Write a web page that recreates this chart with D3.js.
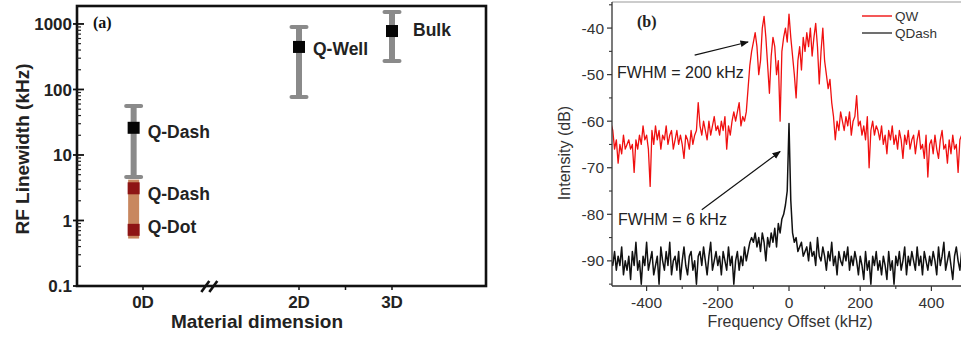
<!DOCTYPE html>
<html><head><meta charset="utf-8">
<script src="https://cdn.jsdelivr.net/npm/d3@7/dist/d3.min.js"></script>
<style>
body{margin:0;background:#fff;}
svg{display:block;}
</style></head>
<body>
<svg id="chart" width="961" height="337"></svg>
<script>
// ---------- Panel (a) data ----------
const dimTickPos = [0, 2, 3];
const dimTickLabels = ["0D", "2D", "3D"];
const yTicksA = [0.1, 1, 10, 100, 1000];
const yTickLabelsA = ["0.1", "1", "10", "100", "1000"];
const pointNames = ["Q-Dash", "Q-Dash", "Q-Dot", "Q-Well", "Bulk"];
const pointDim = [-0.12, -0.12, -0.12, 2, 3];
const pointVal = [26, 3.1, 0.72, 446, 780];
const pointKind = ["black", "red", "red", "black", "black"];
const barDim = [-0.12, -0.12, 2, 3];
const barLow = [4.6, 0.53, 77, 272];
const barHigh = [56, 4.2, 900, 1520];
const barKind = ["gray", "brown", "gray", "gray"];

// ---------- Panel (b) data ----------
const freqStart = -500, freqStep = 5; // sampling grid of the spectra (kHz)
const qwDb = [
-60.5,-62,-66,-64,-69,-65,-67,-63,-66,-65,
-64,-66,-65,-71,-64,-66,-63,-65,-61,-64,
-63,-66,-74,-62,-65,-61,-64,-62,-66,-63,
-64,-61,-65,-63,-62,-66,-64,-62,-65,-63,
-65,-68,-63,-64,-66,-62,-65,-63,-62,-56,
-61,-63,-60,-62,-64,-60,-63,-61,-59,-62,
-61,-63,-60,-62,-59,-66,-61,-63,-60,-58,
-60,-58,-56,-61,-59,-60,-58,-53,-48,-45,
-43,-41,-44,-50,-47,-40,-37.5,-42,-48,-54,
-46,-42,-44,-50,-47,-60,-45,-42,-40,-43,
-37,-42,-46,-50,-55,-47,-44,-49,-42,-45,
-41,-44,-40,-46,-42,-39,-44,-52,-45,-40,
-47,-50,-53,-51,-56,-59,-64,-60,-62,-58,
-60,-62,-59,-61,-58,-63,-60,-59,-54.5,-61,
-60,-63,-61,-64,-59,-70,-62,-60,-63,-61,
-62,-64,-61,-65,-63,-67,-62,-64,-61,-65,
-63,-66,-62,-64,-68,-63,-65,-62,-66,-64,
-63,-67,-64,-62,-66,-65,-68,-63,-72,-65,
-64,-67,-63,-66,-68,-64,-62,-66,-65,-69,
-64,-67,-63,-66,-65,-71,-64,-63,-66,-64,
-63];
const qdashDb = [
-90,-91,-88,-92,-89,-91,-87,-93,-90,-92,
-89,-94,-88,-91,-86,-92,-90,-95,-89,-91,
-86,-92,-90,-88,-93,-91,-89,-95,-87,-90,
-92,-88,-91,-86,-93,-90,-89,-92,-88,-94,
-90,-87,-91,-93,-89,-88,-92,-90,-95,-89,
-88,-91,-87,-90,-93,-89,-86,-92,-90,-88,
-91,-89,-93,-88,-90,-92,-87,-91,-89,-95,
-90,-88,-92,-89,-91,-87,-90,-88,-86,-85,
-86,-84,-87,-85,-88,-84,-86,-90,-85,-87,
-84,-86,-83,-87,-82,-84,-81,-80,-78,-75,
-60.5,-77,-84,-86,-85,-88,-87,-86,-89,-88,
-87,-90,-86,-89,-88,-91,-85,-89,-90,-87,
-89,-92,-88,-90,-86,-91,-89,-93,-88,-90,
-91,-88,-90,-87,-92,-89,-91,-88,-90,-93,
-89,-91,-94,-88,-92,-90,-95,-89,-91,-88,
-92,-90,-93,-89,-91,-94,-88,-92,-90,-95,
-89,-91,-88,-92,-90,-87,-93,-89,-91,-88,
-90,-92,-87,-91,-89,-93,-88,-90,-92,-89,
-91,-88,-90,-93,-87,-91,-89,-86,-92,-90,
-88,-91,-94,-89,-87,-90,-92,-88,-91,-89,
-90];
const xTicksB = [-400, -200, 0, 200, 400];
const yTicksB = [-40, -50, -60, -70, -80, -90];
const seriesNames = ["QW", "QDash"];
const annotTexts = ["FWHM = 200 kHz", "FWHM = 6 kHz"];

const svg = d3.select("#chart");
const sans = "'Liberation Sans', Arial, sans-serif";
const serif = "'Liberation Serif', 'Times New Roman', serif";

// ================= Panel (a) =================
const A = {left: 77, right: 486, top: 6, bottom: 286};
const xA = d3.scaleLinear().domain([0, 2, 3]).range([143, 299, 392]);
const yA = d3.scaleLog().domain([0.1, 1880]).range([A.bottom, A.top]);
const ga = svg.append("g");

// frame
ga.append("rect").attr("x", A.left).attr("y", A.top)
  .attr("width", A.right - A.left).attr("height", A.bottom - A.top)
  .attr("fill", "none").attr("stroke", "#111").attr("stroke-width", 2.6);

// y ticks (log): majors and minors
const minorA = [];
for (let d = 0.1; d < 1880; d *= 10) for (let k = 2; k <= 9; k++) if (d * k < 1880) minorA.push(d * k);
ga.selectAll(".mn").data(minorA).join("line")
  .attr("x1", A.left).attr("x2", A.left + 4)
  .attr("y1", d => yA(d)).attr("y2", d => yA(d))
  .attr("stroke", "#222").attr("stroke-width", 1.2);
ga.selectAll(".mj").data(yTicksA).join("line")
  .attr("x1", A.left - 4).attr("x2", A.left + 7)
  .attr("y1", d => yA(d)).attr("y2", d => yA(d))
  .attr("stroke", "#111").attr("stroke-width", 1.8);
ga.selectAll(".yl").data(yTicksA).join("text")
  .attr("x", A.left - 5).attr("y", d => yA(d))
  .attr("dy", "0.36em").attr("text-anchor", "end")
  .attr("font-family", sans).attr("font-weight", "bold").attr("font-size", 17)
  .attr("fill", "#222").text((d, i) => yTickLabelsA[i]);

// x ticks
ga.selectAll(".xt").data([0, 2, 2.5, 3]).join("line")
  .attr("x1", d => xA(d)).attr("x2", d => xA(d))
  .attr("y1", A.bottom).attr("y2", A.bottom + 4)
  .attr("stroke", "#111").attr("stroke-width", 1.5);
ga.selectAll(".xl").data(dimTickPos).join("text")
  .attr("x", d => xA(d)).attr("y", 308).attr("text-anchor", "middle")
  .attr("font-family", sans).attr("font-weight", "bold").attr("font-size", 17)
  .attr("fill", "#222").text((d, i) => dimTickLabels[i]);

// axis break
const bx = xA(0.85);
[-4, 4].forEach(o => {
  ga.append("line").attr("x1", bx + o - 4).attr("y1", A.bottom + 6)
    .attr("x2", bx + o + 4).attr("y2", A.bottom - 5)
    .attr("stroke", "#111").attr("stroke-width", 2.6);
});

// axis titles
ga.append("text").attr("x", 257).attr("y", 328).attr("text-anchor", "middle")
  .attr("font-family", sans).attr("font-weight", "bold").attr("font-size", 19)
  .attr("fill", "#222").text("Material dimension");
ga.append("text").attr("transform", "translate(29,149) rotate(-90)")
  .attr("text-anchor", "middle")
  .attr("font-family", sans).attr("font-weight", "bold").attr("font-size", 19)
  .attr("fill", "#222").text("RF Linewidth (kHz)");
ga.append("text").attr("x", 93).attr("y", 28)
  .attr("font-family", serif).attr("font-weight", "bold").attr("font-size", 16)
  .attr("fill", "#111").text("(a)");

// error bars
const bars = barDim.map((d, i) => ({d, lo: barLow[i], hi: barHigh[i], kind: barKind[i]}));
bars.filter(b => b.kind === "brown").forEach(b => {
  ga.append("rect").attr("x", xA(b.d) - 5.5).attr("width", 11)
    .attr("y", yA(b.hi)).attr("height", yA(b.lo) - yA(b.hi))
    .attr("fill", "#c8875f");
});
bars.filter(b => b.kind === "gray").forEach(b => {
  const x = xA(b.d);
  ga.append("line").attr("x1", x).attr("x2", x)
    .attr("y1", yA(b.hi)).attr("y2", yA(b.lo))
    .attr("stroke", "#8a8a8a").attr("stroke-width", 6);
  [b.hi, b.lo].forEach(v => {
    ga.append("line").attr("x1", x - 7.5).attr("x2", x + 7.5)
      .attr("y1", yA(v)).attr("y2", yA(v))
      .attr("stroke", "#8a8a8a").attr("stroke-width", 4).attr("stroke-linecap", "round");
  });
});

// points + labels
const labelDx = [14, 14, 14, 14, 21];
const labelDy = [4, 5, -3, 2, -1];
pointVal.forEach((v, i) => {
  const x = xA(pointDim[i]), y = yA(v);
  ga.append("rect").attr("x", x - 6).attr("y", y - 6).attr("width", 12).attr("height", 12)
    .attr("fill", pointKind[i] === "black" ? "#050505" : "#8e1515");
  ga.append("text").attr("x", x + labelDx[i]).attr("y", y + labelDy[i])
    .attr("dy", "0.36em")
    .attr("font-family", sans).attr("font-weight", "bold").attr("font-size", 17.5)
    .attr("fill", "#222").text(pointNames[i]);
});

// ================= Panel (b) =================
const B = {left: 612, right: 967, top: 2, bottom: 286};
const xB = d3.scaleLinear().domain([-500, 500]).range([611, 967]);
const yB = d3.scaleLinear().domain([-95.4, -34.4]).range([B.bottom, B.top]);
const gb = svg.append("g");

svg.append("defs").append("clipPath").attr("id", "clipB")
  .append("rect").attr("x", B.left).attr("y", B.top)
  .attr("width", B.right - B.left).attr("height", B.bottom - B.top);

const toPts = arr => arr.map((v, i) => [freqStart + i * freqStep, v]);
const line = d3.line().x(d => xB(d[0])).y(d => yB(d[1]));
const plot = gb.append("g").attr("clip-path", "url(#clipB)");
plot.append("path").attr("d", line(toPts(qwDb)))
  .attr("fill", "none").attr("stroke", "#f01010").attr("stroke-width", 1.3)
  .attr("stroke-linejoin", "round");
plot.append("path").attr("d", line(toPts(qdashDb)))
  .attr("fill", "none").attr("stroke", "#111").attr("stroke-width", 1.5)
  .attr("stroke-linejoin", "round");

// frame lines
gb.append("line").attr("x1", B.left).attr("x2", 961).attr("y1", B.top).attr("y2", B.top)
  .attr("stroke", "#999").attr("stroke-width", 1.2);
gb.append("line").attr("x1", B.left).attr("x2", B.left).attr("y1", B.top).attr("y2", B.bottom)
  .attr("stroke", "#333").attr("stroke-width", 1.3);
gb.append("line").attr("x1", B.left).attr("x2", 961).attr("y1", B.bottom).attr("y2", B.bottom)
  .attr("stroke", "#333").attr("stroke-width", 1.3);

// y ticks
const yMinorB = [-35, -45, -55, -65, -75, -85, -95];
gb.selectAll(".ymn").data(yMinorB).join("line")
  .attr("x1", B.left - 3).attr("x2", B.left).attr("y1", d => yB(d)).attr("y2", d => yB(d))
  .attr("stroke", "#333").attr("stroke-width", 1.1);
gb.selectAll(".ymj").data(yTicksB).join("line")
  .attr("x1", B.left - 5).attr("x2", B.left).attr("y1", d => yB(d)).attr("y2", d => yB(d))
  .attr("stroke", "#333").attr("stroke-width", 1.2);
gb.selectAll(".yl").data(yTicksB).join("text")
  .attr("x", B.left - 8).attr("y", d => yB(d)).attr("dy", "0.36em").attr("text-anchor", "end")
  .attr("font-family", sans).attr("font-size", 15.5).attr("fill", "#333").text(d => d);

// x ticks
const xMinorB = [-300, -100, 100, 300];
gb.selectAll(".xmn").data(xMinorB).join("line")
  .attr("x1", d => xB(d)).attr("x2", d => xB(d)).attr("y1", B.bottom).attr("y2", B.bottom + 3)
  .attr("stroke", "#333").attr("stroke-width", 1.1);
gb.selectAll(".xmj").data(xTicksB).join("line")
  .attr("x1", d => xB(d)).attr("x2", d => xB(d)).attr("y1", B.bottom).attr("y2", B.bottom + 5)
  .attr("stroke", "#333").attr("stroke-width", 1.2);
gb.selectAll(".xl").data(xTicksB).join("text")
  .attr("x", d => xB(d)).attr("y", 308).attr("text-anchor", "middle")
  .attr("font-family", sans).attr("font-size", 15.5).attr("fill", "#333").text(d => d);

// titles
gb.append("text").attr("x", 790).attr("y", 327).attr("text-anchor", "middle")
  .attr("font-family", sans).attr("font-size", 16).attr("fill", "#333")
  .text("Frequency Offset (kHz)");
gb.append("text").attr("transform", "translate(570,153) rotate(-90)").attr("text-anchor", "middle")
  .attr("font-family", sans).attr("font-size", 16).attr("fill", "#333")
  .text("Intensity (dB)");
gb.append("text").attr("x", 637).attr("y", 27)
  .attr("font-family", serif).attr("font-weight", "bold").attr("font-size", 16)
  .attr("fill", "#222").text("(b)");

// legend
const legColors = ["#f01010", "#333"];
seriesNames.forEach((n, i) => {
  const y = 16 + i * 17;
  gb.append("line").attr("x1", 862).attr("x2", 892).attr("y1", y).attr("y2", y)
    .attr("stroke", legColors[i]).attr("stroke-width", 1.4);
  gb.append("text").attr("x", 895).attr("y", y).attr("dy", "0.36em")
    .attr("font-family", sans).attr("font-size", 13.5).attr("fill", "#333").text(n);
});

// annotations
const defs = svg.select("defs");
defs.append("marker").attr("id", "arr").attr("viewBox", "0 0 10 10")
  .attr("refX", 9).attr("refY", 5).attr("markerWidth", 7).attr("markerHeight", 7)
  .attr("orient", "auto").append("path").attr("d", "M0,1 L10,5 L0,9 Z").attr("fill", "#111");
gb.append("text").attr("x", 617).attr("y", 78)
  .attr("font-family", sans).attr("font-size", 16).attr("fill", "#222").text(annotTexts[0]);
gb.append("text").attr("x", 618).attr("y", 225)
  .attr("font-family", sans).attr("font-size", 16).attr("fill", "#222").text(annotTexts[1]);
gb.append("line").attr("x1", xB(-265)).attr("y1", yB(-45.8)).attr("x2", xB(-115)).attr("y2", yB(-43))
  .attr("stroke", "#111").attr("stroke-width", 1.2).attr("marker-end", "url(#arr)");
gb.append("line").attr("x1", xB(-245)).attr("y1", yB(-79)).attr("x2", xB(-25)).attr("y2", yB(-66.5))
  .attr("stroke", "#111").attr("stroke-width", 1.2).attr("marker-end", "url(#arr)");
</script>
</body></html>
